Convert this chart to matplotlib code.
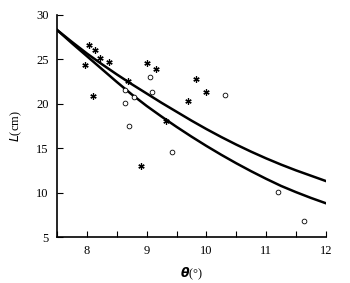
import matplotlib
matplotlib.use("Agg")
import matplotlib.pyplot as plt
from matplotlib.ticker import MultipleLocator

# measured points (stars)
star_theta = [8.04, 8.14, 8.22, 8.37, 7.97, 8.10, 8.69, 9.00, 9.16, 8.90, 9.32, 9.70, 9.83, 10.00]
star_L = [26.6, 26.0, 25.2, 24.7, 24.4, 20.9, 22.6, 24.6, 23.9, 13.0, 18.1, 20.3, 22.8, 21.3]

# measured points (circles)
circ_theta = [9.05, 9.09, 8.64, 8.64, 8.79, 8.70, 9.42, 10.31, 11.20, 11.63]
circ_L = [23.0, 21.3, 21.6, 20.1, 20.7, 17.5, 14.6, 21.0, 10.1, 6.8]

curve_theta = [7.5, 7.75, 8.0, 8.25, 8.5, 8.75, 9.0, 9.25, 9.5, 9.75,
               10.0, 10.25, 10.5, 10.75, 11.0, 11.25, 11.5, 11.75, 12.0]
upper_L = [28.3, 26.95, 25.65, 24.45, 23.3, 22.2, 21.15, 20.1, 19.1, 18.1,
           17.15, 16.25, 15.4, 14.6, 13.85, 13.15, 12.5, 11.9, 11.3]
lower_L = [28.3, 26.8, 25.35, 23.9, 22.45, 21.05, 19.75, 18.55, 17.4, 16.3,
           15.25, 14.25, 13.3, 12.4, 11.55, 10.75, 10.05, 9.4, 8.8]

plt.rcParams["font.family"] = ["Liberation Serif", "DejaVu Serif"]

fig = plt.figure(figsize=(3.5, 2.83), dpi=100)
ax = fig.add_axes([0.163, 0.1625, 0.768, 0.785])

ax.plot(curve_theta, upper_L, color="black", lw=1.8)
ax.plot(curve_theta, lower_L, color="black", lw=1.8)
ax.plot(star_theta, star_L, linestyle="none", marker=(6, 2, 0), ms=4.5, mew=0.9, color="black")
ax.plot(circ_theta, circ_L, linestyle="none", marker="o", ms=3.4, mfc="white", mec="black", mew=0.6)

ax.set_xlim(7.5, 12)
ax.set_ylim(5, 30)
ax.xaxis.set_major_locator(MultipleLocator(1))
ax.xaxis.set_minor_locator(MultipleLocator(0.5))
ax.yaxis.set_major_locator(MultipleLocator(5))
ax.tick_params(direction="in", labelsize=9, length=4, width=0.8, pad=6)
ax.tick_params(which="minor", direction="in", length=4, width=0.8)
ax.spines["top"].set_visible(False)
ax.spines["right"].set_visible(False)
for s in ("left", "bottom"):
    ax.spines[s].set_linewidth(1.2)

ax.set_xlabel(r"$\boldsymbol{\theta}$(°)", fontsize=9, labelpad=6)
ax.set_ylabel(r"$L$(cm)", fontsize=9, labelpad=9)

fig.savefig("out.png", dpi=100)
